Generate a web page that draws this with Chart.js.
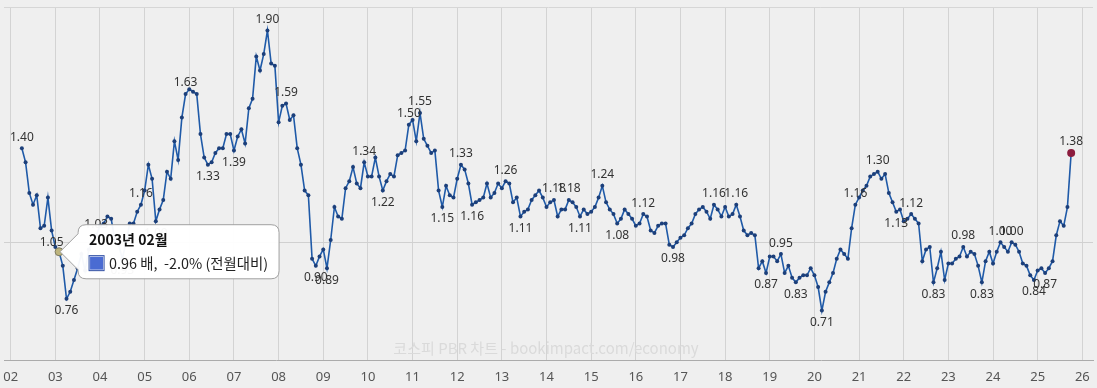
<!DOCTYPE html>
<html>
<head>
<meta charset="utf-8">
<script src="https://cdn.jsdelivr.net/npm/chart.js@4.4.1/dist/chart.umd.min.js"></script>
<style>
  html, body { margin: 0; padding: 0; background: #efefef; }
  #wrap { width: 1097px; height: 388px; }
  canvas { display: block; }
</style>
</head>
<body>
<div id="wrap"><canvas id="c" width="1097" height="388"></canvas></div>
<script>
// ---- data: KOSPI PBR (배), monthly, Apr 2002 – Oct 2025 ----
const startYear = 2002;
const startMonth = 3; // April (0-based), months counted from Jan 2002
const pbr2002 = [1.40, 1.34, 1.21, 1.16, 1.20, 1.06, 1.07, 1.19, 1.05];
const pbr2003 = [0.98, 0.96, 0.90, 0.76, 0.79, 0.84, 0.89, 0.95, 0.88, 0.97, 1.00, 1.03];
const pbr2004 = [1.07, 1.08, 1.11, 1.10, 1.01, 0.99, 0.93, 1.00, 1.08, 1.08, 1.13, 1.16];
const pbr2005 = [1.22, 1.33, 1.27, 1.09, 1.14, 1.18, 1.30, 1.27, 1.43, 1.35, 1.53, 1.63];
const pbr2006 = [1.65, 1.64, 1.63, 1.46, 1.36, 1.33, 1.34, 1.38, 1.40, 1.40, 1.46, 1.46];
const pbr2007 = [1.39, 1.45, 1.48, 1.42, 1.57, 1.61, 1.79, 1.73, 1.80, 1.90, 1.76, 1.75];
const pbr2008 = [1.51, 1.58, 1.59, 1.52, 1.54, 1.40, 1.33, 1.22, 1.20, 0.93, 0.90, 0.94];
const pbr2009 = [0.97, 0.89, 1.01, 1.15, 1.11, 1.10, 1.23, 1.26, 1.32, 1.25, 1.23, 1.34];
const pbr2010 = [1.28, 1.28, 1.36, 1.28, 1.22, 1.26, 1.29, 1.28, 1.37, 1.38, 1.39, 1.50];
const pbr2011 = [1.52, 1.43, 1.55, 1.44, 1.41, 1.38, 1.39, 1.22, 1.15, 1.24, 1.20, 1.19];
const pbr2012 = [1.27, 1.33, 1.31, 1.25, 1.16, 1.17, 1.18, 1.19, 1.25, 1.19, 1.21, 1.25];
const pbr2013 = [1.23, 1.26, 1.25, 1.17, 1.19, 1.11, 1.13, 1.14, 1.18, 1.20, 1.22, 1.19];
const pbr2014 = [1.15, 1.17, 1.18, 1.11, 1.14, 1.14, 1.18, 1.17, 1.15, 1.11, 1.14, 1.12];
const pbr2015 = [1.13, 1.15, 1.19, 1.24, 1.17, 1.14, 1.12, 1.08, 1.10, 1.14, 1.12, 1.10];
const pbr2016 = [1.07, 1.08, 1.12, 1.11, 1.05, 1.04, 1.07, 1.08, 1.08, 0.99, 0.98, 1.00];
const pbr2017 = [1.02, 1.03, 1.06, 1.08, 1.12, 1.14, 1.15, 1.13, 1.10, 1.16, 1.14, 1.11];
const pbr2018 = [1.15, 1.11, 1.12, 1.16, 1.11, 1.05, 1.03, 1.04, 1.03, 0.89, 0.92, 0.87];
const pbr2019 = [0.94, 0.94, 0.92, 0.95, 0.87, 0.90, 0.85, 0.83, 0.85, 0.86, 0.86, 0.89];
const pbr2020 = [0.86, 0.81, 0.71, 0.79, 0.83, 0.87, 0.93, 0.97, 0.95, 0.93, 1.06, 1.16];
const pbr2021 = [1.19, 1.22, 1.24, 1.28, 1.29, 1.30, 1.27, 1.29, 1.21, 1.17, 1.13, 1.14];
const pbr2022 = [1.09, 1.10, 1.12, 1.10, 1.08, 0.92, 0.97, 0.98, 0.83, 0.89, 0.96, 0.84];
const pbr2023 = [0.91, 0.91, 0.93, 0.94, 0.98, 0.94, 0.96, 0.95, 0.90, 0.83, 0.92, 0.96];
const pbr2024 = [0.91, 0.96, 1.00, 0.98, 0.96, 1.00, 0.99, 0.96, 0.91, 0.90, 0.86, 0.84];
const pbr2025 = [0.88, 0.89, 0.87, 0.89, 0.92, 1.03, 1.09, 1.07, 1.15, 1.38];

const yearTickLabels = ['02','03','04','05','06','07','08','09','10','11','12','13',
                        '14','15','16','17','18','19','20','21','22','23','24','25','26'];

// labelled points (months counted from Jan 2002): highs shown above, lows below
const labelAboveMonths = [3, 23, 35, 47, 69, 74, 95, 107, 110, 121, 133, 146, 150, 159, 170,
                          189, 195, 207, 227, 233, 242, 256, 266, 269, 285];
const labelBelowMonths = [11, 15, 30, 39, 53, 60, 82, 85, 100, 116, 124, 137, 153, 163, 178,
                          203, 211, 218, 238, 248, 261, 275, 278];
const tooltipMonth = 13; // 2003-02

// ---- build ----
const allValues = [].concat(pbr2002, pbr2003, pbr2004, pbr2005, pbr2006, pbr2007, pbr2008,
  pbr2009, pbr2010, pbr2011, pbr2012, pbr2013, pbr2014, pbr2015, pbr2016, pbr2017, pbr2018,
  pbr2019, pbr2020, pbr2021, pbr2022, pbr2023, pbr2024, pbr2025);
const points = allValues.map((v, i) => ({ x: startMonth + i, y: v }));
const lastIdx = points.length - 1;
const tipIdx = tooltipMonth - startMonth;
const yearTicks = yearTickLabels.map((_, i) => i * 12);

const FONT = "'Noto Sans', 'Noto Sans CJK KR', sans-serif";
const KFONT = "'Noto Sans CJK KR', 'Noto Sans', sans-serif";

function monthTitle(m) {
  const y = startYear + Math.floor(m / 12);
  const mo = (m % 12) + 1;
  return y + '년 ' + String(mo).padStart(2, '0') + '월';
}

const bgPlugin = {
  id: 'bg',
  beforeDraw(chart) {
    const c = chart.ctx;
    c.save();
    c.fillStyle = '#efefef';
    c.fillRect(0, 0, chart.width, chart.height);
    c.restore();
  },
  beforeDatasetsDraw(chart) {
    const c = chart.ctx, a = chart.chartArea;
    c.save();
    c.strokeStyle = '#d6d6d6';
    c.lineWidth = 1;
    c.beginPath();
    c.moveTo(a.left, Math.round(a.top) + 0.5);
    c.lineTo(a.right, Math.round(a.top) + 0.5);
    c.stroke();
    c.fillStyle = '#dadada';
    c.font = "15px " + KFONT;
    c.textAlign = 'center';
    c.textBaseline = 'middle';
    c.fillText('코스피 PBR 차트 - bookimpact.com/economy', 546, 348);
    c.restore();
  }
};

const labelPlugin = {
  id: 'pointLabels',
  afterDatasetsDraw(chart) {
    const meta = chart.getDatasetMeta(0);
    const c = chart.ctx;
    c.save();
    c.font = "12px " + FONT;
    c.fillStyle = '#333333';
    c.textAlign = 'center';
    c.textBaseline = 'middle';
    labelAboveMonths.forEach(m => {
      const i = m - startMonth, el = meta.data[i];
      if (el) c.fillText(allValues[i].toFixed(2), el.x, el.y - 11);
    });
    labelBelowMonths.forEach(m => {
      const i = m - startMonth, el = meta.data[i];
      if (el) c.fillText(allValues[i].toFixed(2), el.x, el.y + 12);
    });
    c.restore();
  }
};

const chart = new Chart(document.getElementById('c'), {
  type: 'line',
  data: {
    datasets: [{
      data: points,
      borderColor: '#1f5aa8',
      borderWidth: 1.6,
      tension: 0,
      pointRadius: ctx => (ctx.dataIndex === lastIdx || ctx.dataIndex === tipIdx) ? 4 : 2,
      pointBackgroundColor: ctx => ctx.dataIndex === lastIdx ? '#8c1c3e'
                                 : ctx.dataIndex === tipIdx ? '#bdb47c' : '#1c3f7a',
      pointBorderColor: ctx => ctx.dataIndex === lastIdx ? '#8c1c3e'
                             : ctx.dataIndex === tipIdx ? '#7d7a62' : '#1c3f7a',
      pointBorderWidth: ctx => ctx.dataIndex === tipIdx ? 1 : 0,
      clip: false
    }]
  },
  options: {
    responsive: false,
    animation: false,
    devicePixelRatio: 1,
    events: [],
    layout: { padding: { top: 7, left: 4, right: 3, bottom: 0 } },
    scales: {
      x: {
        type: 'linear',
        min: -1.8,
        max: 290.87,
        afterBuildTicks: s => { s.ticks = yearTicks.map(v => ({ value: v })); },
        afterFit: s => { s.height = 28; s.paddingLeft = 0; s.paddingRight = 0; },
        grid: { color: '#d3d3d3', lineWidth: 1, drawTicks: false },
        border: { color: '#ababab', width: 1 },
        ticks: {
          padding: 9,
          color: '#555555',
          font: { family: FONT, size: 13 },
          maxRotation: 0,
          autoSkip: false,
          callback: (v, i) => yearTickLabels[i]
        }
      },
      y: {
        min: 0.5,
        max: 2.0,
        afterBuildTicks: s => { s.ticks = [{ value: 1.0 }]; },
        afterFit: s => { s.width = 0; s.paddingTop = 0; s.paddingBottom = 0; },
        grid: { color: '#d0d0d0', lineWidth: 1, drawTicks: false },
        border: { display: false },
        ticks: { display: false }
      }
    },
    plugins: {
      legend: { display: false },
      tooltip: {
        enabled: true,
        xAlign: 'left',
        yAlign: 'center',
        backgroundColor: 'rgba(255,255,255,0.96)',
        borderColor: '#a0a0a0',
        borderWidth: 1,
        cornerRadius: 8,
        caretSize: 18,
        caretPadding: 1,
        padding: { top: 7, bottom: 7, left: 11, right: 11 },
        titleColor: '#111111',
        bodyColor: '#222222',
        titleFont: { family: KFONT, size: 14, weight: 'bold' },
        bodyFont: { family: KFONT, size: 14.4 },
        titleMarginBottom: 6,
        boxWidth: 15,
        boxHeight: 15,
        boxPadding: 3,
        displayColors: true,
        callbacks: {
          title: items => monthTitle(items[0].parsed.x),
          label: item => {
            const i = item.dataIndex;
            const v = allValues[i];
            const prev = allValues[i - 1];
            const pct = ((v - prev) / prev * 100).toFixed(1);
            return v.toFixed(2) + ' 배,  ' + pct + '% (전월대비)';
          },
          labelColor: () => ({ borderColor: '#2f4ea3', backgroundColor: '#4a6bd2', borderWidth: 1 })
        }
      }
    }
  },
  plugins: [bgPlugin, labelPlugin]
});

const meta = chart.getDatasetMeta(0);
const el = meta.data[tipIdx];
chart.tooltip.setActiveElements([{ datasetIndex: 0, index: tipIdx }], { x: el.x, y: el.y });
chart.update('none');
</script>
</body>
</html>
